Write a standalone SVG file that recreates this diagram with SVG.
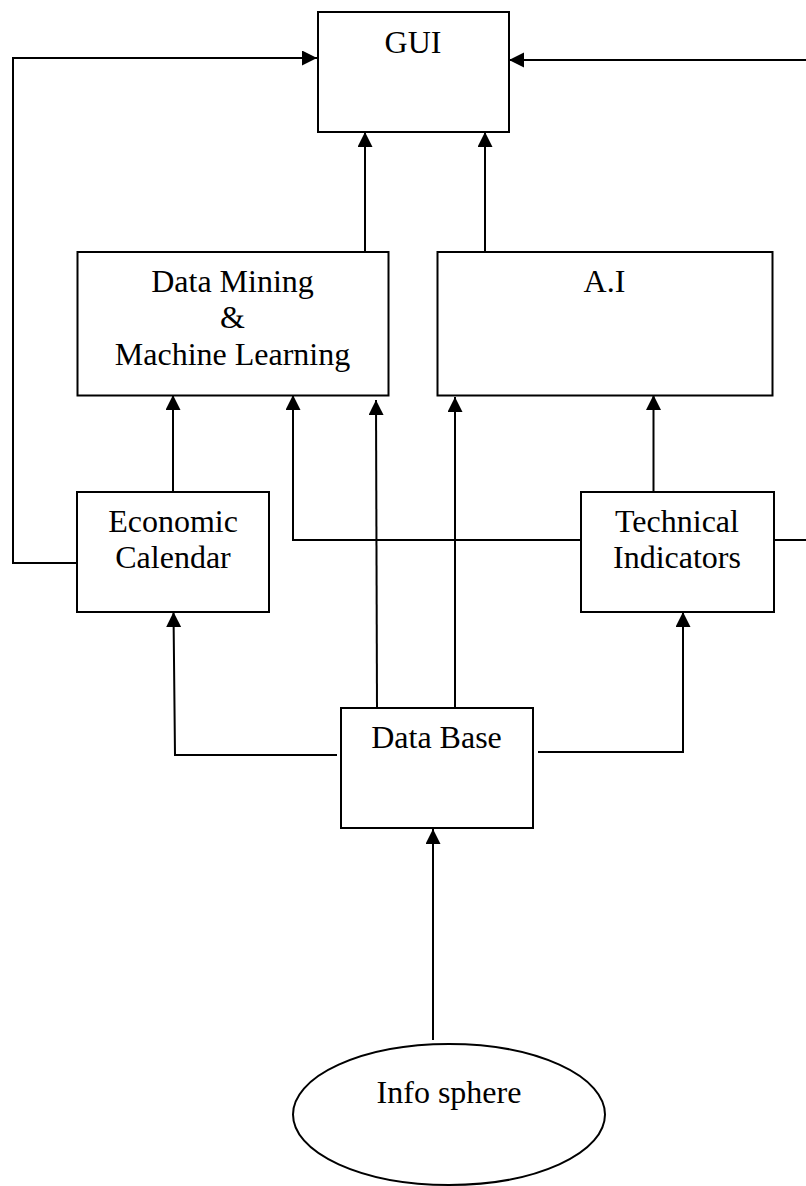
<svg xmlns="http://www.w3.org/2000/svg" width="806" height="1186" viewBox="0 0 806 1186">
<style>
.box{fill:#fff;stroke:#000;stroke-width:2}
.lbl{font-family:"Liberation Serif","Times New Roman",serif;font-size:32px;fill:#000;text-anchor:middle}
.con{fill:none;stroke:#000;stroke-width:2;marker-end:url(#ah)}
</style>
<defs>
<marker id="ah" markerUnits="userSpaceOnUse" markerWidth="16" markerHeight="16" refX="15" refY="7.5" orient="auto">
<path d="M0,0 L15,7.5 L0,15 z" fill="#000"/>
</marker>
</defs>
<rect width="806" height="1186" fill="#fff"/>
<g id="connectors">
<path class="con" d="M77,563 H13 V58 H317"/>
<path class="con" d="M774,540 H812 V60 H509"/>
<path class="con" d="M365,252 V132"/>
<path class="con" d="M485,252 V132"/>
<path class="con" d="M173,491 V395"/>
<path class="con" d="M581,540 H293 V395"/>
<path class="con" d="M377,708 L376,400"/>
<path class="con" d="M455,708 V397"/>
<path class="con" d="M653.5,492 V395"/>
<path class="con" d="M337,755 H175 L173.5,612"/>
<path class="con" d="M538,752 H683 V612"/>
<path class="con" d="M433,1040 V829"/>
</g>
<g id="gui">
<rect class="box" x="318" y="12" width="191" height="120"/>
<text class="lbl" x="413" y="53">GUI</text>
</g>
<g id="dm">
<rect class="box" x="77.5" y="252" width="311" height="143.5"/>
<text class="lbl" x="232.5" y="291.5">Data Mining</text>
<text class="lbl" x="232.5" y="328">&amp;</text>
<text class="lbl" x="232.5" y="365">Machine Learning</text>
</g>
<g id="ai">
<rect class="box" x="437.5" y="252" width="335" height="143.5"/>
<text class="lbl" x="604.5" y="291.5">A.I</text>
</g>
<g id="ec">
<rect class="box" x="77" y="492" width="192" height="120"/>
<text class="lbl" x="173" y="531.5">Economic</text>
<text class="lbl" x="173" y="568">Calendar</text>
</g>
<g id="ti">
<rect class="box" x="581" y="492" width="193" height="120"/>
<text class="lbl" x="677" y="531.5">Technical</text>
<text class="lbl" x="677" y="568">Indicators</text>
</g>
<g id="db">
<rect class="box" x="341" y="708" width="192" height="120"/>
<text class="lbl" x="436.5" y="748">Data Base</text>
</g>
<g id="info">
<ellipse class="box" cx="449" cy="1114.5" rx="156" ry="70.5"/>
<text class="lbl" x="449" y="1103">Info sphere</text>
</g>
</svg>
